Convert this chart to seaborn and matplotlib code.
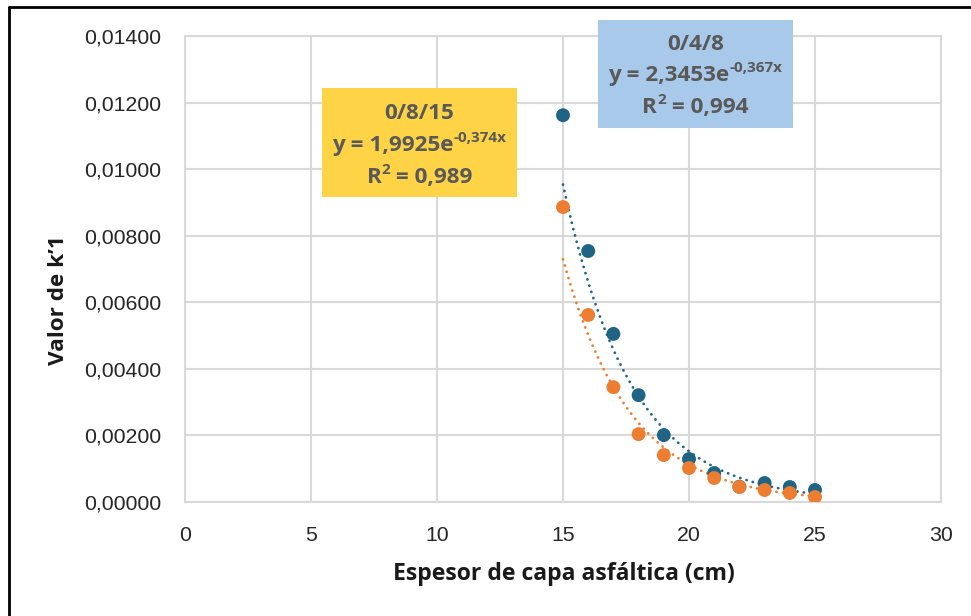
import numpy as np
import pandas as pd
import matplotlib
matplotlib.use("Agg")
import matplotlib.pyplot as plt
import seaborn as sns
from matplotlib.patches import Rectangle
from matplotlib.lines import Line2D
from matplotlib.ticker import FuncFormatter

# ---- data ----
espesor = [15, 16, 17, 18, 19, 20, 21, 22, 23, 24, 25]
k_048 = [0.01162, 0.00754, 0.00505, 0.00321, 0.00201, 0.00129, 0.00087, 0.00046, 0.00057, 0.00045, 0.00036]
k_0815 = [0.00886, 0.00562, 0.00345, 0.00204, 0.00141, 0.00102, 0.00072, 0.00045, 0.00036, 0.00027, 0.00015]
series_names = ["0/4/8", "0/8/15"]
fit_a = [2.3453, 1.9925]
fit_b = [-0.367, -0.374]
fit_r2 = ["0,994", "0,989"]
x_ticks = [0, 5, 10, 15, 20, 25, 30]
y_ticks = [0.0, 0.002, 0.004, 0.006, 0.008, 0.010, 0.012, 0.014]
x_label = "Espesor de capa asfáltica (cm)"
y_label = "Valor de k’1"

colors = {"0/4/8": "#1F6385", "0/8/15": "#ED7D31"}
box_colors = {"0/4/8": "#A9C9EB", "0/8/15": "#FFD346"}

df = pd.DataFrame({
    "x": espesor * 2,
    "y": k_048 + k_0815,
    "serie": [series_names[0]] * len(espesor) + [series_names[1]] * len(espesor),
})

sns.set_theme(style="white")
plt.rcParams["font.family"] = ["Liberation Sans", "DejaVu Sans"]

W, H = 971, 616
fig = plt.figure(figsize=(W / 100, H / 100), dpi=100)
fig.patch.set_facecolor("white")
renderer = fig.canvas.get_renderer()
ax = fig.add_axes([185 / W, 1 - 502 / H, (941 - 185) / W, (502 - 36) / H])

LBL_FONT = ["Open Sans", "DejaVu Sans"]
BOX_FONT = ["Open Sans", "DejaVu Sans"]


def text_width(s, size, family, weight="bold"):
    t = fig.text(0, 0, s, fontsize=size, family=family, fontweight=weight)
    w = t.get_window_extent(renderer).width
    t.remove()
    return w


def fit_size(s, target_px, family, weight="bold"):
    return 10 * target_px / text_width(s, 10, family, weight)


# trend lines
for name, a, b in zip(series_names, fit_a, fit_b):
    xs = np.linspace(espesor[0], espesor[-1], 300)
    ax.plot(xs, a * np.exp(b * xs), color=colors[name], lw=2.0,
            ls=(0, (0.05, 2.3)), dash_capstyle="round", zorder=2)

sns.scatterplot(data=df, x="x", y="y", hue="serie", palette=colors, s=100,
                edgecolor="none", legend=False, ax=ax, zorder=3)

ax.set_xlim(0, 30)
ax.set_ylim(0, 0.014)
ax.set_xticks(x_ticks)
ax.set_yticks(y_ticks)
ax.set_xlabel("")
ax.set_ylabel("")
ax.xaxis.set_major_formatter(FuncFormatter(lambda v, p: f"{v:.0f}"))
ax.yaxis.set_major_formatter(FuncFormatter(lambda v, p: f"{v:.5f}".replace(".", ",")))
ax.tick_params(axis="both", length=0, labelsize=15.3, labelcolor="#262626")
ax.tick_params(axis="y", pad=17)
ax.tick_params(axis="x", pad=17)
ax.grid(True, color="#D9D9D9", lw=1.5)
for sp in ax.spines.values():
    sp.set_color("#D9D9D9")
    sp.set_linewidth(1.5)

xs_size = fit_size(x_label, 342, LBL_FONT)
ys_size = fit_size(y_label, 130, LBL_FONT)
fig.text(564 / W, 1 - 574 / H, x_label, fontsize=xs_size, fontweight="bold",
         family=LBL_FONT, color="#1a1a1a", ha="center", va="center")
fig.text(58 / W, 1 - 300 / H, y_label, fontsize=ys_size, fontweight="bold",
         family=LBL_FONT, color="#1a1a1a", ha="center", va="center", rotation=90)

# annotation boxes (pixel layout)
boxes = {
    "0/8/15": (322, 88, 517, 197, [111, 143, 175]),
    "0/4/8": (598, 20, 793, 128, [42, 73, 105]),
}
TXT_COL = "#595959"
MAIN = 16.2
SUP = 11.0


def rich_line(cx_px, cy_px, pieces, main_size, sup_size):
    """pieces: list of (text, is_superscript)"""
    widths = [text_width(t, sup_size if s else main_size, BOX_FONT) for t, s in pieces]
    total = sum(widths)
    x = cx_px - total / 2
    cap = 0.714 * main_size * 100 / 72
    base = cy_px + cap / 2
    for (t, s), w in zip(pieces, widths):
        yy = base - 0.58 * cap if s else base
        fig.text(x / W, 1 - yy / H, t, fontsize=sup_size if s else main_size,
                 fontweight="bold", family=BOX_FONT, color=TXT_COL,
                 ha="left", va="baseline", zorder=6)
        x += w


for name, a, b, r2 in zip(series_names, fit_a, fit_b, fit_r2):
    x0, y0, x1, y1, lines = boxes[name]
    fig.patches.append(Rectangle((x0 / W, 1 - y1 / H), (x1 - x0) / W, (y1 - y0) / H,
                                 transform=fig.transFigure, facecolor=box_colors[name],
                                 edgecolor="none", zorder=5))
    cx = (x0 + x1) / 2
    a_s = f"{a:.4f}".replace(".", ",")
    b_s = f"{b:.3f}".replace(".", ",") + "x"
    rich_line(cx, lines[0], [(name, False)], MAIN, SUP)
    rich_line(cx, lines[1], [(f"y = {a_s}e", False), (b_s, True)], MAIN, SUP)
    rich_line(cx, lines[2], [("R", False), ("2", True), (f" = {r2}", False)], MAIN, SUP)

# outer frame (left and top edges)
fig.lines.append(Line2D([9 / W, 9 / W], [0, 1 - 7 / H], transform=fig.transFigure,
                        color="black", lw=2))
fig.lines.append(Line2D([9 / W, 1], [1 - 7 / H, 1 - 7 / H], transform=fig.transFigure,
                        color="black", lw=2))

fig.savefig("out.png", dpi=100)
